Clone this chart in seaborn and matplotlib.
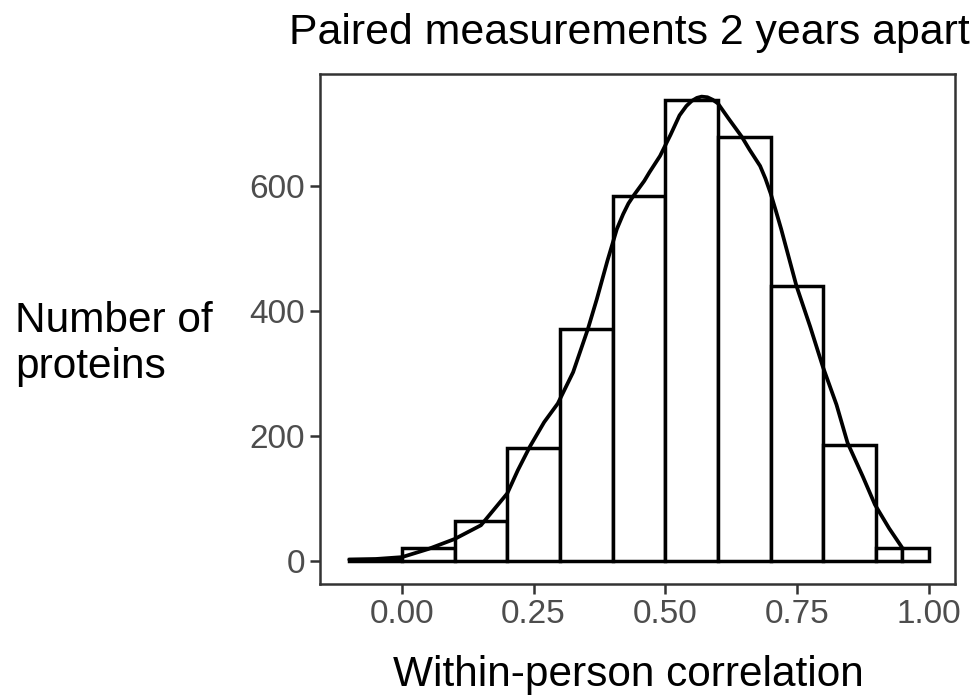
import numpy as np
import pandas as pd
import matplotlib
matplotlib.use("Agg")
import matplotlib.pyplot as plt
import seaborn as sns

# ---- data ----
bin_edges = [-0.1, 0.0, 0.1, 0.2, 0.3, 0.4, 0.5, 0.6, 0.7, 0.8, 0.9, 0.95, 1.0]
bin_counts = [3, 21, 64, 181, 371, 584, 738, 679, 440, 186, 20, 20]

curve_x = [-0.10, -0.05, 0.00, 0.05, 0.10, 0.15, 0.20, 0.22, 0.243, 0.27, 0.296,
           0.325, 0.353, 0.37, 0.39, 0.408, 0.42, 0.43, 0.441, 0.46, 0.47,
           0.48, 0.49, 0.50, 0.51, 0.527, 0.54, 0.55, 0.56, 0.569, 0.58,
           0.59, 0.60, 0.62, 0.645, 0.66, 0.68, 0.69, 0.70, 0.71, 0.72,
           0.749, 0.775, 0.799, 0.825, 0.846, 0.875, 0.898, 0.925, 0.949]
curve_y = [2, 3, 6, 19, 35, 57, 108, 145, 183, 222, 252,
           302, 371, 419, 480, 531, 555, 572, 586, 608, 622,
           635, 648, 665, 682, 713, 728, 736, 741, 743, 742,
           738, 732, 708, 679, 658, 632, 612, 588, 560, 531,
           440, 375, 311, 250, 189, 135, 90, 52, 22]

x_ticks = [0.0, 0.25, 0.5, 0.75, 1.0]
x_ticklabels = ["0.00", "0.25", "0.50", "0.75", "1.00"]
y_ticks = [0, 200, 400, 600]
y_ticklabels = ["0", "200", "400", "600"]

title = "Paired measurements 2 years apart"
xlabel = "Within-person correlation"
ylabel = "Number of\nproteins"

# ---- styling ----
sns.set_theme(style="white")
plt.rcParams['font.family'] = ['Liberation Sans', 'DejaVu Sans']

W, H = 975, 698
fig = plt.figure(figsize=(W / 100, H / 100), dpi=100)
left_px, right_px, top_px, bottom_px = 320.3, 955, 73.5, 584
ax = fig.add_axes([left_px / W, 1 - bottom_px / H,
                   (right_px - left_px) / W, (bottom_px - top_px) / H])

centers = [(a + b) / 2 for a, b in zip(bin_edges[:-1], bin_edges[1:])]
hist_df = pd.DataFrame({"x": centers, "w": bin_counts})
sns.histplot(data=hist_df, x="x", weights="w", bins=bin_edges, ax=ax,
             stat="count", color="white", edgecolor="black", linewidth=2.5,
             alpha=1.0)

curve_df = pd.DataFrame({"x": curve_x, "y": curve_y})
sns.lineplot(data=curve_df, x="x", y="y", ax=ax, color="black", linewidth=2.7,
             sort=True)

ax.set_xlim(-0.155, 1.05)
ax.set_ylim(-37, 780)
ax.set_xticks(x_ticks)
ax.set_xticklabels(x_ticklabels)
ax.set_yticks(y_ticks)
ax.set_yticklabels(y_ticklabels)
ax.set_xlabel("")
ax.set_ylabel("")

for s in ax.spines.values():
    s.set_visible(True)
    s.set_color("#333333")
    s.set_linewidth(1.8)

ax.tick_params(axis="both", which="major", direction="out", length=7, width=1.8,
               color="#333333", labelcolor="#4D4D4D", labelsize=24, pad=4,
               bottom=True, left=True)
ax.grid(False)

fig.text(629 / W, 1 - 33 / H, title, ha="center", va="center", fontsize=30.8,
         color="black")
fig.text(628 / W, 1 - 675 / H, xlabel, ha="center", va="center", fontsize=30.5,
         color="black")
fig.text(15 / W, 1 - 344 / H, ylabel, ha="left", va="center", fontsize=30.5,
         color="black", linespacing=1.2)

fig.savefig("out.png", dpi=100)
